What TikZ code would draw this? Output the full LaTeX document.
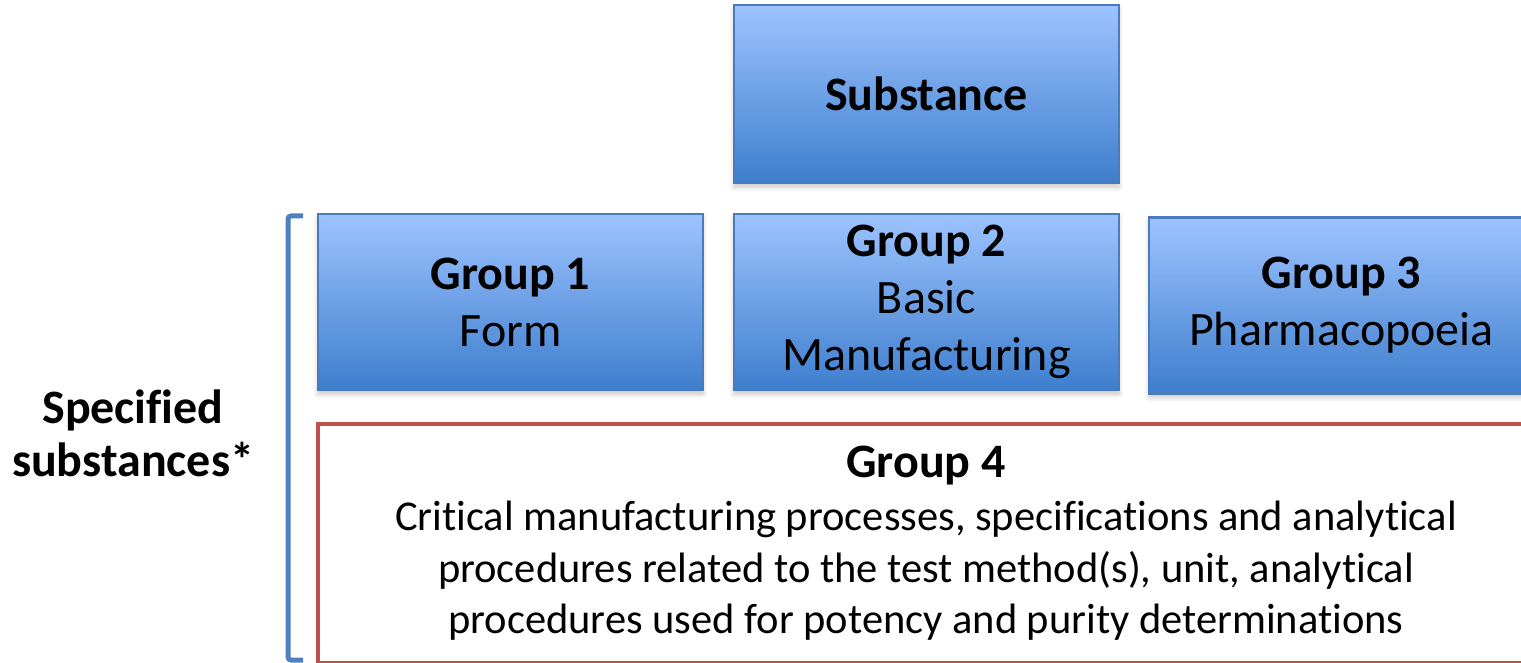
\documentclass[tikz,border=0pt]{standalone}
\usepackage{fontspec}
\setmainfont[Ligatures=NoCommon]{Carlito}
\usetikzlibrary{shadows.blur}

\definecolor{boxtop}{RGB}{157,195,255}
\definecolor{boxbottom}{RGB}{62,126,205}
\definecolor{boxline}{RGB}{72,124,188}
\definecolor{grpred}{RGB}{192,80,77}
\definecolor{bracketblue}{RGB}{79,129,189}

\tikzset{
  bluebox/.style={draw=boxline, line width=2.5pt, top color=boxtop, bottom color=boxbottom,
    minimum width=385pt, minimum height=176pt, inner sep=0pt, align=center,
    font=\fontsize{48}{57}\selectfont,
    blur shadow={shadow xshift=0pt, shadow yshift=-4pt, shadow blur radius=5pt,
      shadow blur steps=6, shadow opacity=22}},
  redbox/.style={draw=grpred, line width=4pt, fill=white,
    minimum width=1216pt, minimum height=239pt, inner sep=0pt, align=center,
    font=\fontsize{42.5}{51.5}\selectfont},
  sidelabel/.style={align=center, font=\fontsize{48}{53}\selectfont\bfseries}
}

\begin{document}
\begin{tikzpicture}[x=1pt,y=-1pt]
            \useasboundingbox (0,0) rectangle (1521,663);
            \clip (0,0) rectangle (1521,663);

            %% top box
            \node [bluebox, minimum height=178pt] (substance) at (926.5,94) {\textbf{Substance}};

            %% the three groups
            \node [bluebox] (group1) at (510.5,302) {\textbf{Group 1}\\Form};
            \node [bluebox] (group2) at (926.5,302) {\textbf{Group 2}\\Basic\\Manufacturing};
            \node [bluebox] (group3) at (1341.5,305.5) {\textbf{Group 3}\\Pharmacopoeia};

            %% group 4, wide red frame
            \node [redbox] (group4) at (926,543)
                {{\fontsize{48}{57}\selectfont\bfseries Group 4}\\[2pt]
                 Critical manufacturing processes, specifications and analytical\\
                 procedures related to the test method(s), unit, analytical\\
                 procedures used for potency and purity determinations};

            %% bracket on the left
            \coordinate (btop) at (303,216);
            \coordinate (bbot) at (303,660);
            \draw [bracketblue, line width=5pt, rounded corners=3pt]
                (btop) -- (288,216) -- (288,660) -- (bbot);
            \node [sidelabel] (specified) at (133,433) {Specified\\substances*};
        \end{tikzpicture}
\end{document}
